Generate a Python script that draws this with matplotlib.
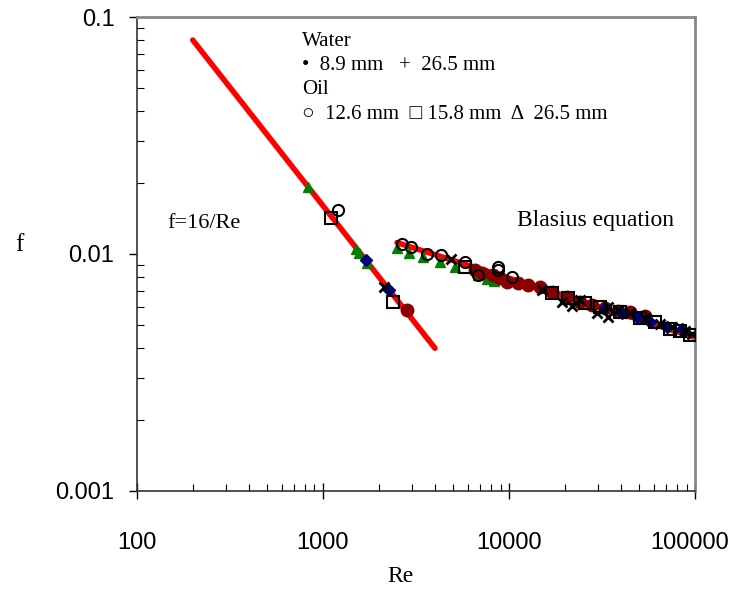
import numpy as np
import matplotlib.pyplot as plt
from matplotlib.ticker import FixedLocator, FixedFormatter, LogLocator, NullFormatter
from matplotlib.transforms import ScaledTranslation

# Laminar (f=16/Re) and Blasius (f=0.079 Re^-0.25) reference lines
lam_re = [200, 4000]
lam_f = [0.08, 0.004]
bla_re = [2500, 4000, 10000, 30000, 100000]
bla_f = [0.01117, 0.00993, 0.00790, 0.00600, 0.00444]

# Oil 12.6 mm - open circles
oil126_re = [1204, 2660, 2973, 3623, 4305, 5794, 6808, 8727, 8727, 10380]
oil126_f = [0.01534, 0.01102, 0.01070, 0.01000, 0.00990, 0.00925, 0.00815, 0.00881, 0.00856, 0.00800]

# Oil 15.8 mm - open squares
oil158_re = [1104, 2376, 5794, 17020, 20750, 25630, 30840, 39500, 50600, 60950, 73400, 83000, 94000]
oil158_f = [0.01419, 0.00627, 0.00881, 0.00685, 0.00652, 0.00621, 0.00597, 0.00569, 0.00537,
            0.00517, 0.00483, 0.00473, 0.00455]

# Oil 26.5 mm - green triangles
oil265_re = [830, 1505, 1561, 1724, 2500, 2899, 3448, 4256, 5125, 6808, 7614, 8300]
oil265_f = [0.0191, 0.0105, 0.0101, 0.0092, 0.01060, 0.01010, 0.00971, 0.00925, 0.00881,
            0.00815, 0.00784, 0.00769]

# Water - blue diamonds
wblue_re = [1703, 2264, 32810, 40500, 48750, 57300, 70650, 85100]
wblue_f = [0.0094, 0.00705, 0.00592, 0.00564, 0.00542, 0.00517, 0.00492, 0.00483]

# Water 26.5 mm - crosses
w265_re = [2128, 4877, 15040, 19280, 21820, 24080, 29740, 34060, 34060, 38550, 44700, 53830,
           64860, 75200, 88360, 96350]
w265_f = [0.00726, 0.00953, 0.00705, 0.00627, 0.00603, 0.00639, 0.00564, 0.00597, 0.00542,
          0.00580, 0.00564, 0.00537, 0.00507, 0.00492, 0.00473, 0.00460]

# Water 8.9 mm - dark red filled circles
w89_re = [2829, 6565, 7161, 8203, 8946, 9752, 11170, 12650, 14680, 17020, 20500, 24080, 27940,
          32810, 38550, 44700, 53830]
w89_f = [0.0058, 0.00856, 0.00832, 0.00815, 0.00793, 0.00762, 0.00754, 0.00740, 0.00726,
         0.00691, 0.00659, 0.00627, 0.00609, 0.00592, 0.00575, 0.00569, 0.00547]

serif = 'Liberation Serif'
sans = 'Liberation Sans'

fig = plt.figure(figsize=(7.35, 5.9), dpi=100)
ax = fig.add_axes([0.186, 0.168, 0.760, 0.803])

ax.plot(lam_re, lam_f, color='red', lw=4, solid_capstyle='round', zorder=2)
ax.plot(bla_re, bla_f, color='red', lw=4, solid_capstyle='round', zorder=2)

ax.plot(oil265_re, oil265_f, ls='none', marker='^', ms=7, color='green', zorder=3)
ax.plot(w89_re, w89_f, ls='none', marker='o', ms=9, color='#8b0000', zorder=3)
ax.plot(wblue_re, wblue_f, ls='none', marker='D', ms=6, color='#00007f', zorder=3)
ax.plot(w265_re, w265_f, ls='none', marker='x', ms=7, mew=2, color='black', zorder=4)
ax.plot(oil158_re, oil158_f, ls='none', marker='s', ms=8, mfc='none', mec='black', mew=1.5, zorder=4)
ax.plot(oil126_re, oil126_f, ls='none', marker='o', ms=8, mfc='none', mec='black', mew=1.5, zorder=4)

ax.set_xscale('log')
ax.set_yscale('log')
ax.set_xlim(100, 100000)
ax.set_ylim(0.001, 0.1)

ax.xaxis.set_major_locator(FixedLocator([100, 1000, 10000, 100000]))
ax.xaxis.set_major_formatter(FixedFormatter(['100', '1000', '10000', '100000']))
ax.yaxis.set_major_locator(FixedLocator([0.001, 0.01, 0.1]))
ax.yaxis.set_major_formatter(FixedFormatter(['0.001', '0.01', '0.1']))
ax.xaxis.set_minor_locator(LogLocator(base=10, subs=np.arange(2, 10)))
ax.yaxis.set_minor_locator(LogLocator(base=10, subs=np.arange(2, 10)))
ax.xaxis.set_minor_formatter(NullFormatter())
ax.yaxis.set_minor_formatter(NullFormatter())

ax.tick_params(axis='x', which='major', direction='inout', length=11, width=1, pad=24)
ax.tick_params(axis='y', which='major', direction='out', length=6, width=1, pad=10)
ax.tick_params(which='minor', direction='in', length=5, width=0.8)
for lbl in ax.get_xticklabels() + ax.get_yticklabels():
    lbl.set_fontfamily(sans)
    lbl.set_fontsize(17)

# last x label pulled in a little so it stays inside the figure
last = ax.get_xticklabels()[-1]
last.set_transform(last.get_transform() + ScaledTranslation(-0.06, 0, fig.dpi_scale_trans))

for s in ['left', 'bottom']:
    ax.spines[s].set_color('#333333')
    ax.spines[s].set_linewidth(1.2)
for s in ['top', 'right']:
    ax.spines[s].set_color('#888888')
    ax.spines[s].set_linewidth(2)

fig.text(15 / 735, 1 - 245 / 590, 'f', family=serif, fontsize=18, ha='left', va='center')
fig.text(400 / 735, 1 - 576 / 590, 'Re', family=serif, fontsize=17, ha='center', va='center')

ax.text(0.055, 0.565, 'f=16/Re', transform=ax.transAxes, family=serif, fontsize=16, va='center')
ax.text(0.68, 0.57, 'Blasius equation', transform=ax.transAxes, family=serif, fontsize=17, va='center')

legend_lines = ['Water', '\u2022  8.9 mm   +  26.5 mm', 'Oil',
                '\u25cb  12.6 mm  \u25a1 15.8 mm  \u0394  26.5 mm']
for i, t in enumerate(legend_lines):
    fig.text(302 / 735, 1 - (41 + 24.5 * i) / 590, t, family=[serif, 'DejaVu Sans'],
             fontsize=15, ha='left', va='center')

fig.savefig('out.png', dpi=100)
